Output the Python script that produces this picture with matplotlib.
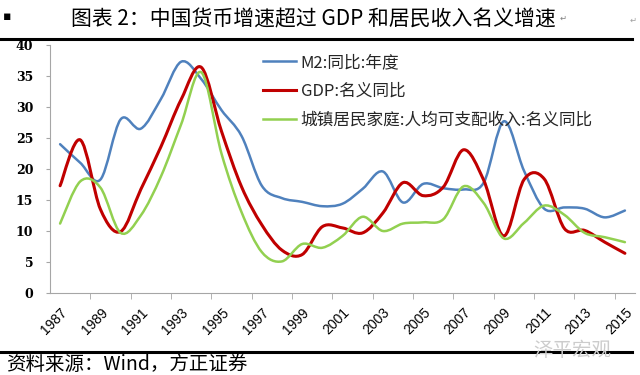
import numpy as np
import matplotlib.pyplot as plt
from matplotlib.path import Path
from matplotlib.patches import PathPatch
from matplotlib.lines import Line2D

plt.rcParams['font.family'] = ['Noto Sans CJK SC', 'DejaVu Sans']

# 数据
years = list(range(1987, 2016))
m2 = [24.0, 21.0, 18.3, 28.0, 26.5, 31.3, 37.3, 34.5, 29.5, 25.3, 17.3, 15.3, 14.7, 14.0, 14.4,
      16.8, 19.6, 14.6, 17.6, 16.9, 16.7, 17.8, 27.7, 19.7, 13.6, 13.8, 13.6, 12.2, 13.3]
gdp = [17.3, 24.7, 13.5, 9.9, 16.7, 23.6, 31.2, 36.4, 26.1, 17.1, 11.0, 6.9, 6.2, 10.7, 10.5,
       9.7, 12.9, 17.8, 15.7, 17.1, 23.1, 18.2, 9.2, 18.3, 18.4, 10.4, 10.1, 8.2, 6.4]
income = [11.2, 18.0, 17.0, 9.7, 12.5, 18.8, 27.2, 35.6, 22.5, 13.0, 6.6, 5.1, 7.9, 7.3, 9.2,
          12.3, 10.0, 11.2, 11.4, 11.9, 17.2, 14.5, 8.8, 11.3, 14.1, 12.6, 9.7, 9.0, 8.2]
labels = ['M2:同比:年度', 'GDP:名义同比', '城镇居民家庭:人均可支配收入:名义同比']
colors = ['#4F81BD', '#C00000', '#92D050']
widths = [1.8, 2.2, 1.8]


def smooth_path(x, y):
    # 类似 Excel 的平滑线: Catmull-Rom 转成三次贝塞尔
    P = np.column_stack([x, y]).astype(float)
    n = len(P)
    verts = [P[0]]
    codes = [Path.MOVETO]
    for i in range(n - 1):
        p0 = P[i - 1] if i > 0 else P[i]
        p1 = P[i]
        p2 = P[i + 1]
        p3 = P[i + 2] if i + 2 < n else P[i + 1]
        verts += [p1 + (p2 - p0) / 6, p2 - (p3 - p1) / 6, p2]
        codes += [Path.CURVE4] * 3
    return Path(verts, codes)


fig = plt.figure(figsize=(6.4, 3.75), dpi=100)
ax = fig.add_axes([50 / 640, 82 / 375, 585 / 640, 248 / 375])

for vals, c, lw in zip([m2, gdp, income], colors, widths):
    ax.add_patch(PathPatch(smooth_path(years, vals), fill=False, edgecolor=c, lw=lw,
                           capstyle='round', joinstyle='round'))

ax.set_xlim(1986.5, 2015.5)
ax.set_ylim(0, 40)

for s in ['top', 'right']:
    ax.spines[s].set_visible(False)
for s in ['left', 'bottom']:
    ax.spines[s].set_color('#a6a6a6')
    ax.spines[s].set_linewidth(0.8)

ax.set_yticks(range(0, 41, 5))
ax.set_yticklabels([str(v) for v in range(0, 41, 5)], family='DejaVu Serif',
                   fontweight='bold', fontsize=9)
ax.tick_params(axis='y', length=3, color='#a6a6a6', pad=9)

ax.set_xticks(years[::2])
ax.set_xticklabels([str(y) for y in years[::2]], rotation=45, ha='right',
                   rotation_mode='anchor', family='Liberation Sans', fontsize=10)
ax.set_xticks(np.arange(1988.5, 2015, 2), minor=True)
ax.tick_params(axis='x', which='major', length=0, pad=9)
ax.tick_params(axis='x', which='minor', length=4, color='#a6a6a6')

handles = [Line2D([], [], color=c, lw=lw) for c, lw in zip(colors, widths)]
ax.legend(handles, labels, loc='upper left', bbox_to_anchor=(263 / 640, 1 - 54 / 375),
          bbox_transform=fig.transFigure, frameon=False, fontsize=12, handlelength=2.0,
          handletextpad=0.25, labelspacing=0.72, borderpad=0, borderaxespad=0,
          labelcolor='#262626')

# 标题、分隔线、资料来源
fig.text(0.49, 1 - 19 / 375, '图表 2：中国货币增速超过 GDP 和居民收入名义增速',
         ha='center', va='center', fontsize=15)
fig.text(3 / 640, 1 - 16 / 375, '▪', ha='left', va='center', fontsize=9,
         family='DejaVu Sans')
fig.text(560 / 640, 1 - 18 / 375, '↵', ha='left', va='center', fontsize=6,
         color='#808080', family='DejaVu Sans')
fig.text(630 / 640, 1 - 20 / 375, '↵', ha='left', va='center', fontsize=6,
         color='#a0a0a0', family='DejaVu Sans')
fig.add_artist(Line2D([0, 632 / 640], [1 - 39 / 375] * 2, color='black', lw=2.2,
                      transform=fig.transFigure))
fig.add_artist(Line2D([0, 632 / 640], [1 - 352 / 375] * 2, color='black', lw=2.2,
                      transform=fig.transFigure))
fig.text(572 / 640, 1 - 351 / 375, '泽平宏观', ha='center', va='center', fontsize=14,
         color='#cccccc')
fig.text(6 / 640, 1 - 364 / 375, '资料来源：Wind，方正证券', ha='left', va='center',
         fontsize=14)

fig.savefig('out.png', dpi=100)
